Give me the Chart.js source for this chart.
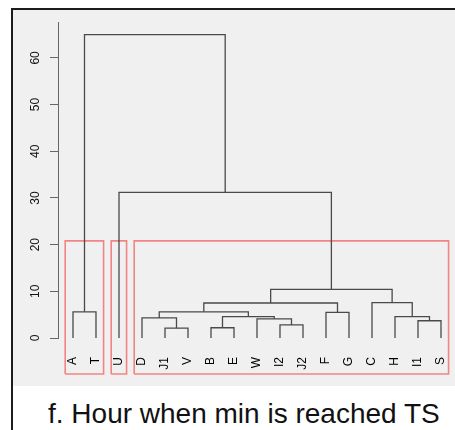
<!DOCTYPE html>
<html>
<head>
<meta charset="utf-8">
<script src="https://cdn.jsdelivr.net/npm/chart.js@4.4.1/dist/chart.umd.min.js"></script>
<style>
	body { margin: 0; background: #fff; }
	#frame { position: absolute; left: 11px; top: 8px; width: 444px; height: 422px; box-sizing: border-box; border-left: 2px solid #1c1c1c; border-top: 2px solid #1c1c1c; }
	#panel { background: #f0f0f0; width: 442px; height: 376px; }
	#panel canvas { display: block; }
	#caption { position: absolute; left: 35px; top: 390px; font: 28px "Liberation Sans", Arial, sans-serif; line-height: 28px; color: #111; white-space: nowrap; }
</style>
</head>
<body>
<div id="frame">
	<div id="panel"><canvas id="chart-dendro" width="442" height="376"></canvas></div>
	<div id="caption">f. Hour when min is reached TS</div>
</div>
<script>
// leaf order as drawn, left to right
const leaves = ["A", "T", "U", "D", "J1", "V", "B", "E", "W", "I2", "J2", "F", "G", "C", "H", "I1", "S"];

// merges: [left child, right child, height]; strings are leaves, numbers point to earlier merges
const merges = [
	["J1", "V", 2.1],
	["B", "E", 2.2],
	["I2", "J2", 2.8],
	["I1", "S", 3.7],
	["W", 2, 4.1],
	["D", 0, 4.3],
	[1, 4, 4.6],
	["H", 3, 4.6],
	["F", "G", 5.5],
	["A", "T", 5.6],
	[5, 6, 5.6],
	[10, 8, 7.5],
	["C", 7, 7.6],
	[11, 12, 10.4],
	["U", 13, 31.2],
	[9, 14, 65],
];

const yTicks = [0, 10, 20, 30, 40, 50, 60];

// first and last leaf of each red box, and the cut height
const clusters = [["A", "T"], ["U", "U"], ["D", "S"]];
const cutHeight = 20.8;

const lineColor = "#4a4a4a";
const boxColor = "#f28484";
const boxBottom = -7.7;

Chart.defaults.font.family = "'Liberation Sans', Arial, sans-serif";
Chart.defaults.responsive = false;
Chart.defaults.maintainAspectRatio = false;

var placed = [];
function nodeOf(ref) {
	if (typeof ref === "string") return { x: leaves.indexOf(ref), h: 0 };
	return placed[ref];
}

const datasets = [];
merges.forEach(function (m) {
	const l = nodeOf(m[0]);
	const r = nodeOf(m[1]);
	placed.push({ x: (l.x + r.x) / 2, h: m[2] });
	datasets.push({
		data: [
			{ x: l.x, y: l.h },
			{ x: l.x, y: m[2] },
			{ x: r.x, y: m[2] },
			{ x: r.x, y: r.h },
		],
		showLine: true,
		borderColor: lineColor,
		borderWidth: 1.3,
		pointRadius: 0,
		tension: 0,
	});
});

clusters.forEach(function (c) {
	const x0 = leaves.indexOf(c[0]) - 0.34;
	const x1 = leaves.indexOf(c[1]) + 0.33;
	datasets.push({
		data: [
			{ x: x0, y: boxBottom },
			{ x: x0, y: cutHeight },
			{ x: x1, y: cutHeight },
			{ x: x1, y: boxBottom },
			{ x: x0, y: boxBottom },
		],
		showLine: true,
		clip: false,
		borderColor: boxColor,
		borderWidth: 1.6,
		pointRadius: 0,
		tension: 0,
	});
});

const ctx = document.getElementById("chart-dendro").getContext("2d");

var chart = new Chart(ctx, {
	type: "scatter",
	data: { datasets: datasets },
	options: {
		animation: false,
		layout: { padding: { top: 12, left: 0, right: 0, bottom: 0 } },
		plugins: {
			legend: { display: false },
			tooltip: { enabled: false },
		},
		scales: {
			x: {
				type: "linear",
				min: -0.652,
				max: 16.609,
				grid: { display: false },
				border: { display: false },
				afterBuildTicks: function (s) {
					s.ticks = leaves.map(function (l, i) {
						return { value: i };
					});
				},
				afterFit: function (s) {
					s.height = 48;
					s.paddingLeft = 0;
					s.paddingRight = 0;
				},
				ticks: {
					autoSkip: false,
					minRotation: 90,
					maxRotation: 90,
					padding: 11,
					color: "#000",
					font: { size: 12, weight: 500 },
					callback: function (v) {
						return leaves[v];
					},
				},
			},
			y: {
				min: 0,
				max: 67.7,
				afterBuildTicks: function (s) {
					s.ticks = yTicks.map(function (v) {
						return { value: v };
					});
				},
				afterFit: function (s) {
					s.width = 45;
					s.paddingTop = 0;
					s.paddingBottom = 0;
				},
				grid: {
					drawOnChartArea: false,
					drawTicks: true,
					tickLength: 8,
					color: "#666",
				},
				border: { display: true, color: "#666", width: 1 },
				ticks: {
					minRotation: 90,
					maxRotation: 90,
					crossAlign: "center",
					padding: 8,
					color: "#111",
					font: { size: 12 },
				},
			},
		},
	},
});
</script>
</body>
</html>
